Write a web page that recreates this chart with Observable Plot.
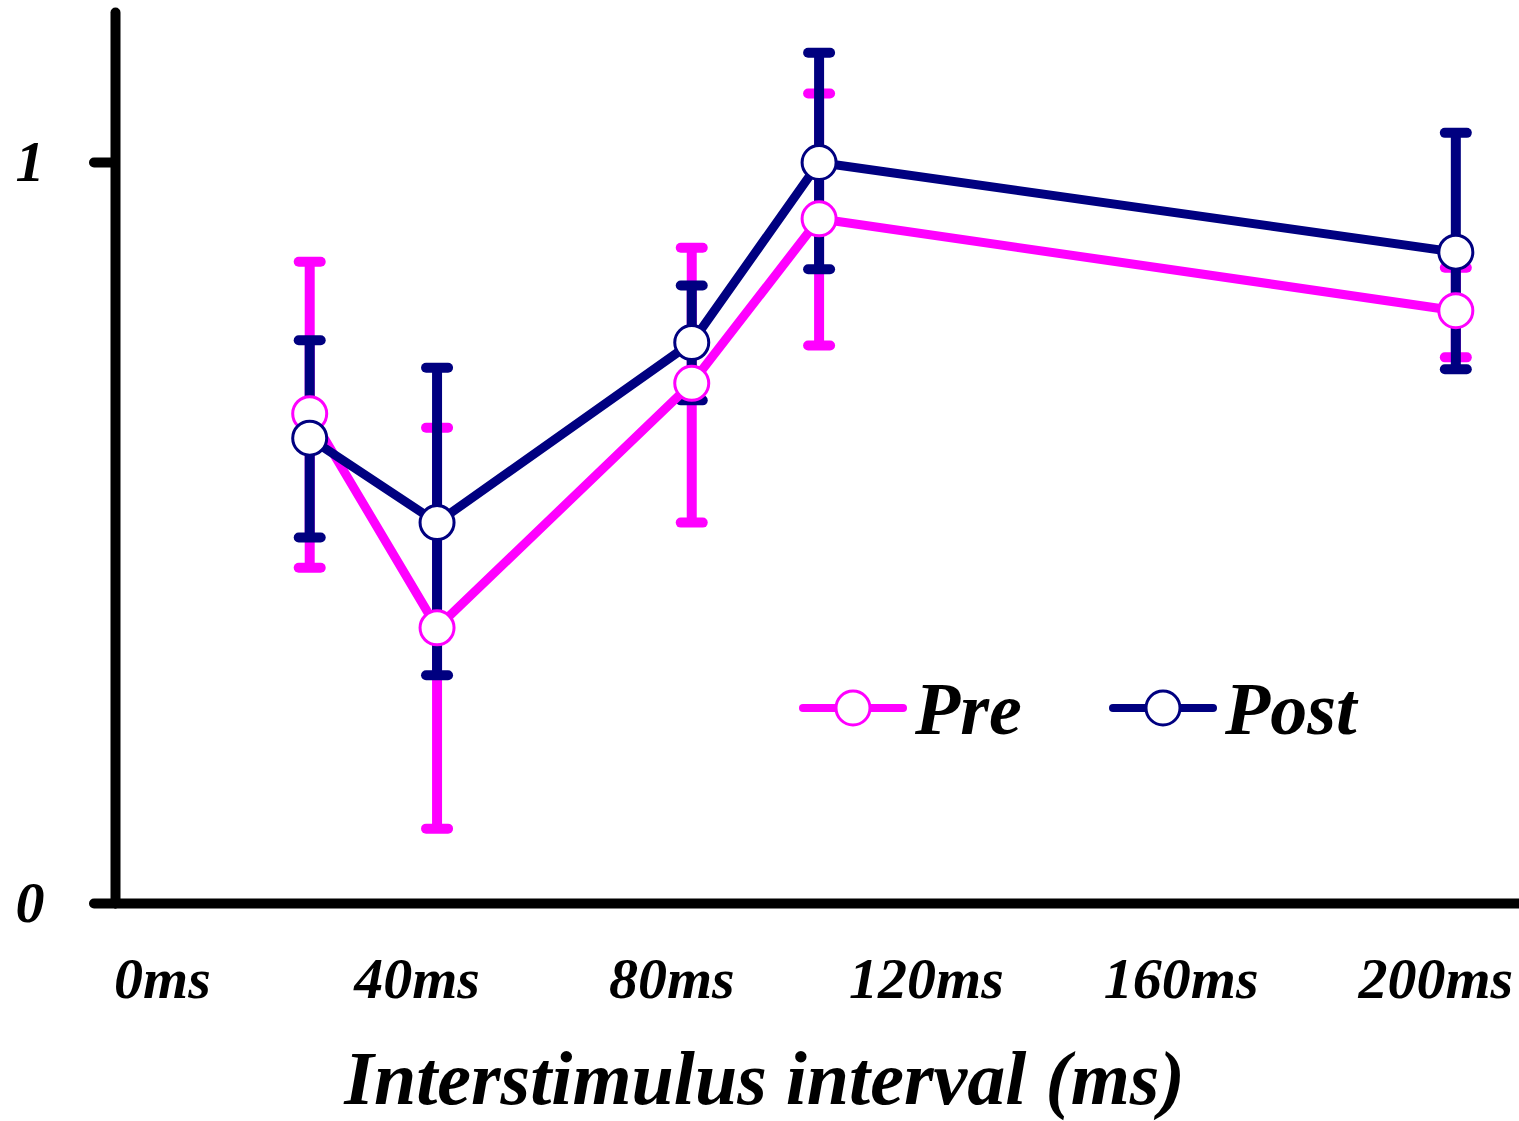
<!DOCTYPE html>
<html>
<head>
<meta charset="utf-8">
<script src="https://cdn.jsdelivr.net/npm/d3@7"></script>
<script src="https://cdn.jsdelivr.net/npm/@observablehq/plot@0.6"></script>
<style>
  html, body { margin: 0; padding: 0; background: #fff; }
  #chart { width: 1519px; height: 1121px; }
</style>
</head>
<body>
<div id="chart"></div>
<script>
// ---- data ----
const isi = [20, 40, 80, 100, 200];
const preMean  = [0.661, 0.372, 0.702, 0.924, 0.800];
const preLow   = [0.453, 0.101, 0.514, 0.753, 0.737];
const preHigh  = [0.866, 0.642, 0.885, 1.093, 0.858];
const postMean = [0.628, 0.514, 0.757, 1.000, 0.879];
const postLow  = [0.494, 0.308, 0.679, 0.856, 0.721];
const postHigh = [0.760, 0.723, 0.834, 1.148, 1.040];
const seriesNames = ["Pre", "Post"];
const seriesColors = ["#FF00FF", "#000080"];
const xTicks = [0, 40, 80, 120, 160, 200];
const xTickLabels = ["0ms", "40ms", "80ms", "120ms", "160ms", "200ms"];
const yTicks = [0, 1];
const yTickLabels = ["0", "1"];
const xTitle = "Interstimulus interval (ms)";

const pre = isi.map((x, i) => ({x, y: preMean[i], lo: preLow[i], hi: preHigh[i]}));
const post = isi.map((x, i) => ({x, y: postMean[i], lo: postLow[i], hi: postHigh[i]}));

const capSymbol = {
  draw(context, size) {
    const r = Math.sqrt(size / Math.PI);
    context.moveTo(-r, 0);
    context.lineTo(r, 0);
  }
};

function errorMarks(data, color) {
  return [
    Plot.ruleX(data, {x: "x", y1: "lo", y2: "hi", stroke: color, strokeWidth: 10}),
    Plot.dot(data, {x: "x", y: "lo", symbol: capSymbol, r: 11, fill: "none", stroke: color, strokeWidth: 10, strokeLinecap: "round"}),
    Plot.dot(data, {x: "x", y: "hi", symbol: capSymbol, r: 11, fill: "none", stroke: color, strokeWidth: 10, strokeLinecap: "round"})
  ];
}
function seriesMarks(data, color) {
  return [
    Plot.line(data, {x: "x", y: "y", stroke: color, strokeWidth: 9, strokeLinejoin: "round"}),
    Plot.dot(data, {x: "x", y: "y", r: 17, fill: "white", stroke: color, strokeWidth: 3})
  ];
}

const fontFamily = '"Liberation Serif", "Times New Roman", serif';

const chart = Plot.plot({
  width: 1519,
  height: 1121,
  marginLeft: 115,
  marginRight: 0,
  marginTop: 12,
  marginBottom: 218,
  x: {domain: [-10.5, 210], axis: null},
  y: {domain: [0, 1.2024], axis: null},
  style: {fontFamily, fontWeight: "bold", fontStyle: "italic", background: "white", color: "black"},
  marks: [
    Plot.frame({anchor: "left", stroke: "black", strokeWidth: 10, strokeLinecap: "round"}),
    Plot.frame({anchor: "bottom", stroke: "black", strokeWidth: 10, strokeLinecap: "round"}),
    Plot.axisY(yTicks, {tickSize: 21, strokeWidth: 10, strokeLinecap: "round", tickPadding: 50, fontSize: 58,
      tickFormat: d => yTickLabels[yTicks.indexOf(d)]}),
    Plot.axisX(xTicks, {tickSize: 0, tickPadding: 53, fontSize: 58, dx: -20, label: null,
      tickFormat: d => xTickLabels[xTicks.indexOf(d)]}),
    Plot.text([xTitle], {frameAnchor: "bottom", dx: -53, dy: 200, fontSize: 76, fill: "black"}),
    ...errorMarks(pre, seriesColors[0]),
    ...errorMarks(post, seriesColors[1]),
    ...seriesMarks(pre, seriesColors[0]),
    ...seriesMarks(post, seriesColors[1])
  ]
});
document.getElementById("chart").appendChild(chart);

// legend placed inside the plot area (bottom right), as in the reference
const svg = d3.select(chart);
const legendItems = [
  {name: seriesNames[0], color: seriesColors[0], x0: 803},
  {name: seriesNames[1], color: seriesColors[1], x0: 1113}
];
const lg = svg.append("g").attr("class", "legend");
legendItems.forEach(it => {
  const g = lg.append("g");
  g.append("line").attr("x1", it.x0).attr("x2", it.x0 + 100).attr("y1", 708).attr("y2", 708)
    .attr("stroke", it.color).attr("stroke-width", 8).attr("stroke-linecap", "round");
  g.append("circle").attr("cx", it.x0 + 50).attr("cy", 708).attr("r", 17)
    .attr("fill", "white").attr("stroke", it.color).attr("stroke-width", 3);
  g.append("text").attr("x", it.x0 + 112).attr("y", 734).text(it.name)
    .attr("text-anchor", "start")
    .attr("font-family", fontFamily).attr("font-weight", "bold").attr("font-style", "italic")
    .attr("font-size", 74).attr("fill", "black");
});
</script>
</body>
</html>
